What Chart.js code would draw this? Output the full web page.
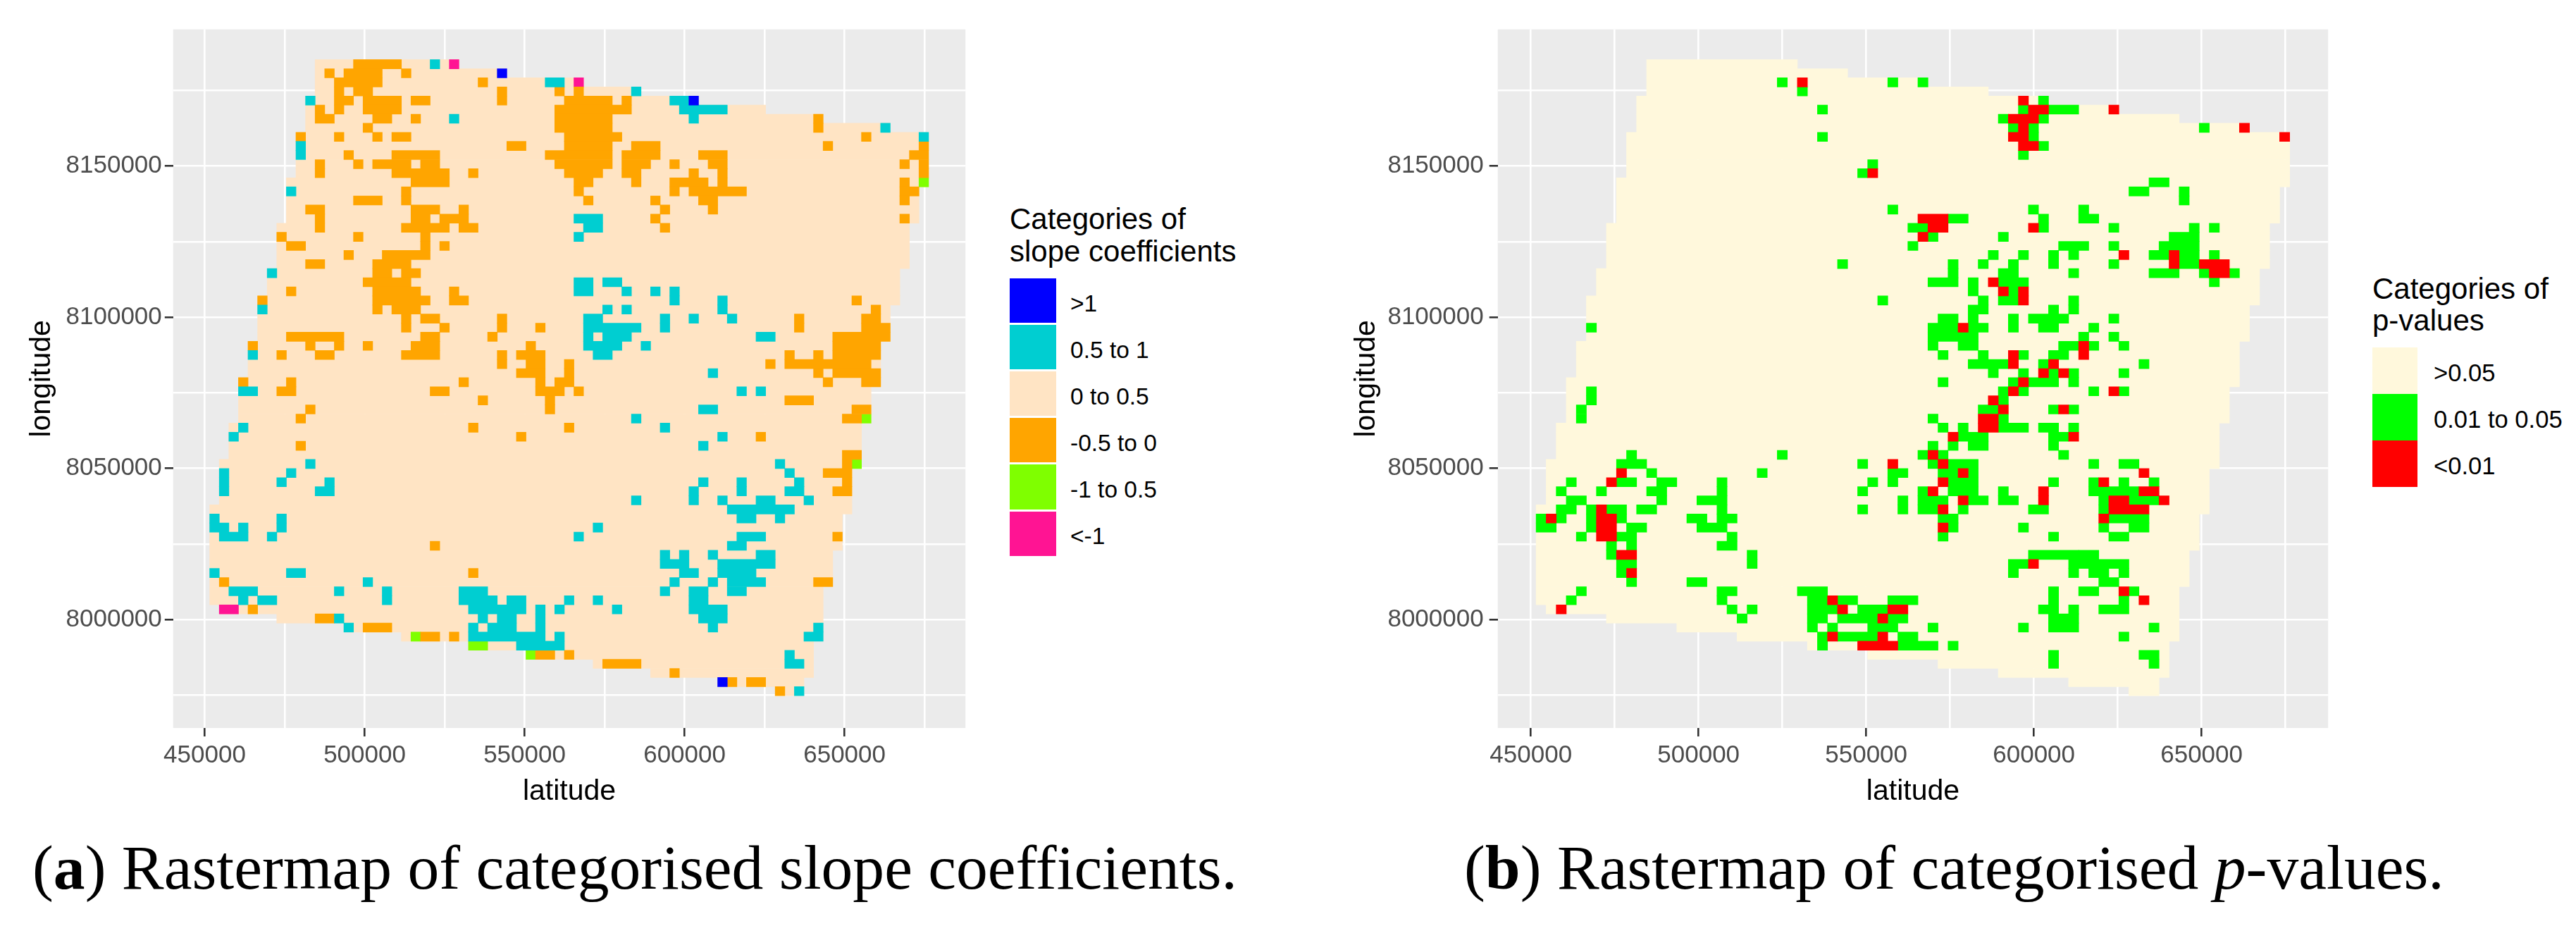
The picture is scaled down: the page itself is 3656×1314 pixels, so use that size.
<!DOCTYPE html>
<html>
<head>
<meta charset="utf-8">
<title>Rastermaps</title>
<script src="https://cdn.jsdelivr.net/npm/chart.js@4"></script>
<style>
  html, body { margin: 0; background: #fff; }
  body { position: relative; width: 3656px; height: 1314px; overflow: hidden; font-family: "Liberation Sans", sans-serif; }
  canvas { position: absolute; top: 0; }
  .key { position: absolute; }
  .txt { position: absolute; white-space: nowrap; color: #000; }
  .caption { position: absolute; white-space: nowrap; font-family: "Liberation Serif", serif; font-size: 89.6px; line-height: 100px; color: #000; }
</style>
</head>
<body>
<canvas id="slopeChart" style="left:0"></canvas>
<canvas id="pvalChart" style="left:1880px"></canvas>
<div class="caption" style="left:46px;top:1181px">(<b>a</b>) Rastermap of categorised slope coefficients.</div>
<div class="caption" style="left:2078px;top:1181px">(<b>b</b>) Rastermap of categorised <i>p</i>-values.</div>
<script>
// raster grid: cells are addressed by row (from the top) and column (from the left)
const firstColLat = 453068;
const firstRowLon = 8183700;
const cellWidth = 2996;
const cellHeight = 3005;

const latTicks = [450000, 500000, 550000, 600000, 650000];
const lonTicks = [8000000, 8050000, 8100000, 8150000];
const latGrid = [450000, 475000, 500000, 525000, 550000, 575000, 600000, 625000, 650000, 675000];
const lonGrid = [7975000, 8000000, 8025000, 8050000, 8075000, 8100000, 8125000, 8150000, 8175000];

// first and last column of the study area on each row, rows 0..69
const areaRows = [
  [11,25],[11,30],[11,38],[11,44],[10,50],[10,57],[10,63],[10,70],[9,74],[9,74],
  [9,74],[9,74],[9,74],[8,74],[8,73],[8,73],[8,73],[8,73],[7,72],[7,72],
  [7,72],[7,72],[7,72],[6,71],[6,71],[6,71],[5,71],[5,70],[5,70],[5,70],
  [5,70],[4,69],[4,69],[4,69],[4,69],[3,69],[3,68],[3,68],[3,68],[3,68],
  [2,67],[2,67],[2,67],[2,67],[1,67],[1,66],[1,66],[1,66],[1,66],[0,66],
  [0,65],[0,65],[0,65],[0,65],[0,64],[0,64],[0,64],[0,64],[0,63],[0,63],
  [1,63],[7,63],[14,63],[20,63],[27,62],[33,62],[40,62],[46,62],[53,61],[59,61]
];

// slope categories, runs of [row, first column, last column]
const slopeAbove1 = [[1,30,30],[4,50,50],[68,53,53]];
const slopeHalfTo1 = [
  [0,23,23],[2,35,36],[3,44,44],[4,10,10],[4,48,49],[5,49,53],[6,25,25],[6,50,50],[7,70,70],[8,74,74],
  [9,9,9],[10,9,9],[14,8,8],[17,38,40],[18,39,40],[19,38,38],[23,6,6],[24,38,39],[24,41,42],
  [25,38,39],[25,43,43],[25,46,46],[25,48,48],[26,48,48],[26,53,53],[27,5,5],[27,41,41],[27,43,43],[27,53,53],
  [28,39,40],[28,47,47],[28,50,50],[28,54,54],[29,39,44],[29,47,47],[30,39,39],[30,41,43],[30,57,58],
  [31,39,42],[31,45,45],[32,4,4],[32,40,41],[34,52,52],[36,3,4],[36,55,55],[36,57,57],
  [38,51,52],[39,44,44],[40,3,3],[40,47,47],[41,2,2],[41,53,53],[42,51,51],[44,10,10],[44,59,59],
  [45,1,1],[45,8,8],[45,60,60],[46,1,1],[46,7,7],[46,12,12],[46,51,51],[46,55,55],[46,61,61],
  [47,1,1],[47,11,12],[47,50,50],[47,55,55],[47,60,61],[48,44,44],[48,50,50],[48,53,53],[48,57,58],[48,62,62],
  [49,54,60],[50,0,0],[50,7,7],[50,55,56],[50,59,59],[51,0,1],[51,3,3],[51,7,7],[51,40,40],
  [52,1,3],[52,6,6],[52,38,38],[52,55,57],[53,54,55],[54,47,47],[54,49,49],[54,52,52],[54,57,58],
  [55,47,49],[55,53,58],[56,0,0],[56,8,9],[56,49,50],[56,53,56],[57,16,16],[57,48,48],[57,52,52],[57,54,57],
  [58,2,4],[58,13,13],[58,18,18],[58,26,28],[58,47,47],[58,50,51],[58,54,55],
  [59,3,3],[59,5,6],[59,18,18],[59,26,29],[59,31,32],[59,37,37],[59,40,40],[59,50,51],
  [60,27,32],[60,34,34],[60,36,36],[60,42,42],[60,50,53],[61,13,13],[61,28,28],[61,30,31],[61,34,34],[61,51,53],
  [62,14,14],[62,27,27],[62,29,31],[62,34,34],[62,52,52],[62,63,63],[63,27,34],[63,36,36],[63,62,63],
  [64,32,36],[65,60,60],[66,60,61],[69,61,61]
];
const slopeNegHalf = [
  [0,15,19],[1,12,12],[1,14,17],[1,20,20],[2,13,17],[2,28,28],[3,13,13],[3,15,16],[3,30,30],[3,36,36],[3,38,38],
  [4,13,14],[4,16,19],[4,21,22],[4,30,30],[4,37,41],[4,43,43],[5,11,11],[5,13,13],[5,16,19],[5,36,43],
  [6,11,12],[6,17,18],[6,21,21],[6,36,41],[6,63,63],[7,16,16],[7,36,41],[7,63,63],
  [8,9,9],[8,13,13],[8,17,17],[8,19,20],[8,37,42],[8,68,68],[9,31,32],[9,37,41],[9,44,46],[9,64,64],[9,74,74],
  [10,14,14],[10,19,23],[10,35,41],[10,43,46],[10,51,53],[10,73,74],
  [11,11,11],[11,15,15],[11,17,20],[11,22,23],[11,36,41],[11,43,45],[11,48,48],[11,52,53],[11,72,72],[11,74,74],
  [12,11,11],[12,19,24],[12,27,27],[12,37,40],[12,43,44],[12,50,50],[12,53,53],[12,74,74],
  [13,21,24],[13,38,39],[13,44,44],[13,48,51],[13,53,53],[13,72,72],
  [14,20,20],[14,38,38],[14,48,48],[14,50,55],[14,72,73],[15,15,17],[15,20,20],[15,39,39],[15,46,46],[15,51,52],[15,72,72],
  [16,10,11],[16,21,23],[16,26,26],[16,47,47],[16,52,52],[17,11,11],[17,21,22],[17,24,26],[17,46,46],[17,72,72],
  [18,11,11],[18,20,24],[18,26,27],[18,47,47],[19,7,7],[19,15,15],[19,22,22],[20,8,9],[20,22,22],[20,24,24],
  [21,14,14],[21,18,22],[22,10,11],[22,17,20],[23,17,18],[23,20,21],[24,16,20],[25,8,8],[25,17,21],[25,25,25],
  [26,5,5],[26,17,22],[26,25,26],[26,67,67],[27,17,17],[27,19,21],[27,69,69],
  [28,20,20],[28,22,23],[28,30,30],[28,61,61],[28,68,69],[29,20,20],[29,24,24],[29,30,30],[29,34,34],[29,61,61],[29,68,70],
  [30,8,13],[30,22,23],[30,29,29],[30,65,70],[31,4,4],[31,10,10],[31,13,13],[31,16,16],[31,21,23],[31,33,33],[31,65,69],
  [32,7,7],[32,11,12],[32,20,23],[32,30,30],[32,32,34],[32,60,60],[32,63,63],[32,65,69],
  [33,30,30],[33,33,34],[33,37,37],[33,58,58],[33,60,68],[34,32,34],[34,37,37],[34,63,63],[34,65,69],
  [35,3,3],[35,8,8],[35,26,26],[35,34,34],[35,36,37],[35,64,64],[35,68,69],
  [36,7,8],[36,23,24],[36,34,36],[36,38,38],[37,28,28],[37,35,35],[37,60,62],[38,10,10],[38,35,35],[38,67,68],
  [39,9,9],[39,66,67],[40,27,27],[40,37,37],[41,32,32],[41,57,57],[42,9,9],[43,66,67],[44,66,66],
  [45,64,66],[46,66,66],[47,65,66],[52,65,65],[53,23,23],[56,27,27],[57,1,1],[57,63,64],
  [60,4,4],[61,11,12],[62,16,18],[63,22,23],[63,25,25],[65,34,35],[65,37,37],[66,41,44],[67,48,48],
  [68,54,54],[68,56,57],[69,59,59]
];
const slopeNeg1ToHalf = [[13,74,74],[39,68,68],[44,67,67],[63,21,21],[64,27,28],[65,33,33]];
const slopeBelowNeg1 = [[0,25,25],[2,38,38],[60,1,2]];

const slopeLabels = [">1", "0.5 to 1", "0 to 0.5", "-0.5 to 0", "-1 to 0.5", "<-1"];
const slopeColors = ["#0000FF", "#00CED1", "#FFE4C4", "#FFA500", "#7FFF00", "#FF1493"];

// p-value categories, runs of [row, first column, last column]
const pMid = [
  [2,24,24],[2,35,35],[2,38,38],[3,26,26],[4,50,50],[5,28,28],[5,48,48],[5,51,53],[6,46,46],[6,50,50],
  [7,47,47],[7,49,49],[7,66,66],[8,28,28],[8,49,49],[9,50,50],[10,48,48],[11,33,33],[12,32,32],
  [13,61,62],[14,59,60],[14,64,64],[15,64,64],[16,35,35],[16,49,49],[16,54,54],[17,41,42],[17,50,50],[17,54,55],
  [18,37,38],[18,50,50],[18,57,57],[18,65,65],[18,67,67],[19,39,39],[19,46,46],[19,63,65],
  [20,37,37],[20,52,54],[20,57,57],[20,62,65],[21,45,45],[21,48,48],[21,51,51],[21,53,53],[21,61,62],[21,64,65],[21,67,67],
  [22,30,30],[22,41,41],[22,44,44],[22,47,47],[22,51,51],[22,57,57],[22,64,65],
  [23,41,41],[23,46,47],[23,53,53],[23,61,63],[23,66,66],[23,69,69],[24,39,41],[24,43,43],[24,46,48],[24,67,67],
  [25,43,43],[25,47,47],[26,34,34],[26,44,44],[26,46,47],[26,53,53],[27,43,44],[27,51,51],[27,53,53],
  [28,40,41],[28,43,43],[28,47,47],[28,49,52],[28,57,57],[29,5,5],[29,39,41],[29,43,44],[29,47,47],[29,50,51],[29,55,55],
  [30,39,43],[30,54,54],[30,57,57],[31,39,39],[31,42,43],[31,52,53],[31,55,55],[31,58,58],
  [32,40,40],[32,44,44],[32,48,48],[32,51,52],[33,43,46],[33,50,50],[33,60,60],
  [34,45,45],[34,48,48],[34,51,51],[34,53,53],[34,58,58],[35,40,40],[35,47,47],[35,49,51],[35,53,53],
  [36,5,5],[36,46,46],[36,48,48],[36,55,55],[36,58,58],[37,5,5],[37,46,46],[38,4,4],[38,44,45],[38,51,51],[38,53,53],
  [39,4,4],[39,39,39],[39,46,46],[40,40,40],[40,42,42],[40,46,48],[40,50,51],[40,53,53],
  [41,42,44],[41,51,52],[42,39,39],[42,41,41],[42,43,44],[42,51,51],
  [43,9,9],[43,24,24],[43,38,38],[43,40,40],[43,52,52],[44,8,10],[44,32,32],[44,39,39],[44,41,43],[44,55,55],[44,58,59],
  [45,11,11],[45,22,22],[45,35,36],[45,40,41],[45,43,43],
  [46,3,3],[46,8,9],[46,12,13],[46,18,18],[46,33,33],[46,35,35],[46,41,43],[46,51,51],[46,55,55],[46,58,58],[46,61,61],
  [47,2,2],[47,6,6],[47,11,12],[47,18,18],[47,32,32],[47,38,38],[47,41,43],[47,46,46],[47,55,59],
  [48,3,4],[48,12,12],[48,16,18],[48,36,36],[48,38,40],[48,43,44],[48,46,47],[48,56,56],[48,59,61],
  [49,2,3],[49,5,5],[49,7,8],[49,10,11],[49,18,18],[49,32,32],[49,36,36],[49,38,39],[49,42,42],[49,49,50],[49,56,56],
  [50,0,0],[50,2,2],[50,5,5],[50,8,8],[50,15,16],[50,18,19],[50,40,41],[50,57,60],
  [51,0,1],[51,5,5],[51,9,10],[51,16,18],[51,41,41],[51,48,48],[51,56,56],[51,59,60],
  [52,4,4],[52,8,9],[52,19,19],[52,40,40],[52,51,51],[52,57,58],[53,7,7],[53,9,9],[53,18,19],
  [54,7,7],[54,21,21],[54,49,53],[54,54,55],[55,8,9],[55,21,21],[55,47,48],[55,53,58],
  [56,8,8],[56,47,47],[56,53,53],[56,55,56],[56,58,58],[57,9,9],[57,15,16],[57,56,57],
  [58,4,4],[58,18,19],[58,26,28],[58,51,51],[58,54,55],[58,59,59],
  [59,3,3],[59,18,18],[59,27,28],[59,30,31],[59,35,37],[59,51,51],[59,58,58],
  [60,19,19],[60,21,21],[60,27,29],[60,32,34],[60,50,51],[60,53,53],[60,56,58],
  [61,20,20],[61,27,28],[61,30,33],[61,35,36],[61,51,53],
  [62,27,27],[62,29,29],[62,33,35],[62,39,39],[62,48,48],[62,51,53],[62,61,61],
  [63,28,28],[63,30,33],[63,36,37],[63,58,58],[64,28,28],[64,36,39],[64,41,41],
  [65,51,51],[65,60,61],[66,51,51],[66,61,61]
];
const pLow = [
  [2,26,26],[4,48,48],[5,49,50],[5,57,57],[6,47,49],[7,48,48],[7,70,70],[8,47,48],[8,74,74],[9,48,49],
  [12,33,33],[17,38,40],[18,39,40],[18,49,49],[19,38,38],[21,58,58],[21,63,63],[22,63,63],[22,66,68],[23,67,68],
  [24,45,45],[25,46,46],[25,48,48],[26,48,48],[29,42,42],[31,54,54],[32,47,47],[32,54,54],[33,47,47],[33,51,51],
  [34,50,50],[34,52,52],[35,48,48],[36,47,47],[36,57,57],[37,45,45],[38,46,46],[38,52,52],[39,44,45],[40,44,45],
  [41,41,41],[41,53,53],[43,39,39],[44,35,35],[44,40,40],[45,8,8],[45,42,42],[45,60,60],
  [46,7,7],[46,40,40],[46,56,56],[47,39,39],[47,50,50],[47,60,61],[48,42,42],[48,50,50],[48,57,58],[48,62,62],
  [49,6,6],[49,40,40],[49,57,60],[50,1,1],[50,6,7],[50,56,56],[51,6,7],[51,40,40],[52,6,7],
  [54,8,9],[55,49,49],[56,9,9],[58,58,58],[59,29,29],[59,60,60],[60,2,2],[60,30,30],[60,35,36],
  [61,34,34],[63,29,29],[63,34,34],[64,32,35]
];

const pLabels = [">0.05", "0.01 to 0.05", "<0.01"];
const pColors = ["#FFF8DC", "#00FF00", "#FF0000"];

const PANEL_BG = "#EBEBEB";

// one floating horizontal bar per run, placed by the chart's own scales
function runBars(runs) {
  return runs.map(([row, first, last]) => ({
    y: firstRowLon - row * cellHeight,
    x: [firstColLat + first * cellWidth - cellWidth / 2, firstColLat + last * cellWidth + cellWidth / 2],
  }));
}

function areaBars() {
  return areaRows.map(([first, last], row) => ({
    y: firstRowLon - row * cellHeight,
    x: [firstColLat + first * cellWidth - cellWidth / 2, firstColLat + last * cellWidth + cellWidth / 2],
  }));
}

function barSet(label, color, data, order) {
  return {
    label, data, order,
    backgroundColor: color,
    borderWidth: 0,
    barPercentage: 1,
    categoryPercentage: 1,
    grouped: false,
    inflateAmount: 0.35,
  };
}

const panelBackground = {
  id: "panelBackground",
  beforeDraw(chart) {
    const { ctx, chartArea: a } = chart;
    ctx.save();
    ctx.fillStyle = PANEL_BG;
    ctx.fillRect(a.left, a.top, a.right - a.left, a.bottom - a.top);
    ctx.restore();
  },
};

function axisOptions(min, max, gridValues, tickValues, title, titlePad, labelPad, fitSize) {
  return {
    type: "linear",
    min, max,
    offset: false,
    grid: {
      offset: false,
      color: "#FFFFFF",
      lineWidth: 2.6,
      tickLength: 12,
      tickWidth: 2.6,
      tickColor: (c) => (c.tick && tickValues.includes(c.tick.value) ? "#333333" : "rgba(0,0,0,0)"),
    },
    border: { display: false },
    afterBuildTicks: (s) => { s.ticks = gridValues.map((value) => ({ value })); },
    ticks: {
      autoSkip: false,
      maxRotation: 0,
      minRotation: 0,
      padding: labelPad,
      color: "#4D4D4D",
      font: { family: "'Liberation Sans'", size: 35 },
      callback: (v) => (tickValues.includes(v) ? String(v) : ""),
    },
    title: {
      display: true,
      text: title,
      color: "#000000",
      font: { family: "'Liberation Sans'", size: 41 },
      padding: titlePad,
    },
    afterFit: fitSize,
  };
}

function makeChart(id, width, latMin, latMax, datasets, leftSize, rightPad, lonLabelPad) {
  const canvas = document.getElementById(id);
  canvas.width = width;
  canvas.height = 1148;
  return new Chart(canvas, {
    type: "bar",
    data: { datasets },
    options: {
      indexAxis: "y",
      responsive: false,
      animation: false,
      devicePixelRatio: 1,
      layout: { padding: { top: 41.7, right: rightPad, bottom: 0, left: 0 } },
      plugins: { legend: { display: false }, tooltip: { enabled: false } },
      scales: {
        x: axisOptions(latMin, latMax, latGrid, latTicks, "latitude", 0, 6, (s) => { s.height = 1148 - 1033; }),
        y: axisOptions(7964178, 8195215, lonGrid, lonTicks, "longitude", { top: 35, bottom: 0 }, lonLabelPad, (s) => { s.width = leftSize; }),
      },
    },
    plugins: [panelBackground],
  });
}

const colors = slopeColors;
makeChart("slopeChart", 1400, 440155, 687793, [
  barSet(slopeLabels[0], colors[0], runBars(slopeAbove1), 0),
  barSet(slopeLabels[1], colors[1], runBars(slopeHalfTo1), 0),
  barSet(slopeLabels[2], colors[2], areaBars(), 5),
  barSet(slopeLabels[3], colors[3], runBars(slopeNegHalf), 0),
  barSet(slopeLabels[4], colors[4], runBars(slopeNeg1ToHalf), 0),
  barSet(slopeLabels[5], colors[5], runBars(slopeBelowNeg1), 0),
], 245.8, 29.8, 4);

makeChart("pvalChart", 1440, 440125, 687735, [
  barSet(pLabels[0], pColors[0], areaBars(), 5),
  barSet(pLabels[1], pColors[1], runBars(pMid), 1),
  barSet(pLabels[2], pColors[2], runBars(pLow), 0),
], 245.7, 15.8, 8);

// ggplot style legends, real text next to colour keys
function addText(text, left, top, size, lineHeight) {
  const el = document.createElement("div");
  el.className = "txt";
  el.textContent = text;
  el.style.cssText = `left:${left}px;top:${top}px;font-size:${size}px;line-height:${lineHeight}px`;
  document.body.appendChild(el);
}

function addLegend(title, labels, cols, box) {
  title.forEach((line, i) => addText(line, box.x, box.titleTop + i * box.titleStep, 42, box.titleStep));
  labels.forEach((label, i) => {
    const key = document.createElement("div");
    key.className = "key";
    const top = box.keyTop + i * box.keyStep;
    key.style.cssText = `left:${box.x}px;top:${top}px;width:${box.keyW}px;height:${box.keyH}px;background:${cols[i]}`;
    document.body.appendChild(key);
    addText(label, box.labelX, top + box.keyH / 2 + box.labelDy - 20, box.labelSize, 40);
  });
}

addLegend(["Categories of", "slope coefficients"], slopeLabels, slopeColors, {
  x: 1433, titleTop: 287.5, titleStep: 46, keyTop: 395, keyStep: 66.1, keyW: 66, keyH: 63.2,
  labelX: 1519, labelSize: 33.5, labelDy: 4,
});
addLegend(["Categories of", "p-values"], pLabels, pColors, {
  x: 3367, titleTop: 387, titleStep: 45, keyTop: 493, keyStep: 66, keyW: 64, keyH: 66,
  labelX: 3454, labelSize: 34.6, labelDy: 3,
});
</script>
</body>
</html>
